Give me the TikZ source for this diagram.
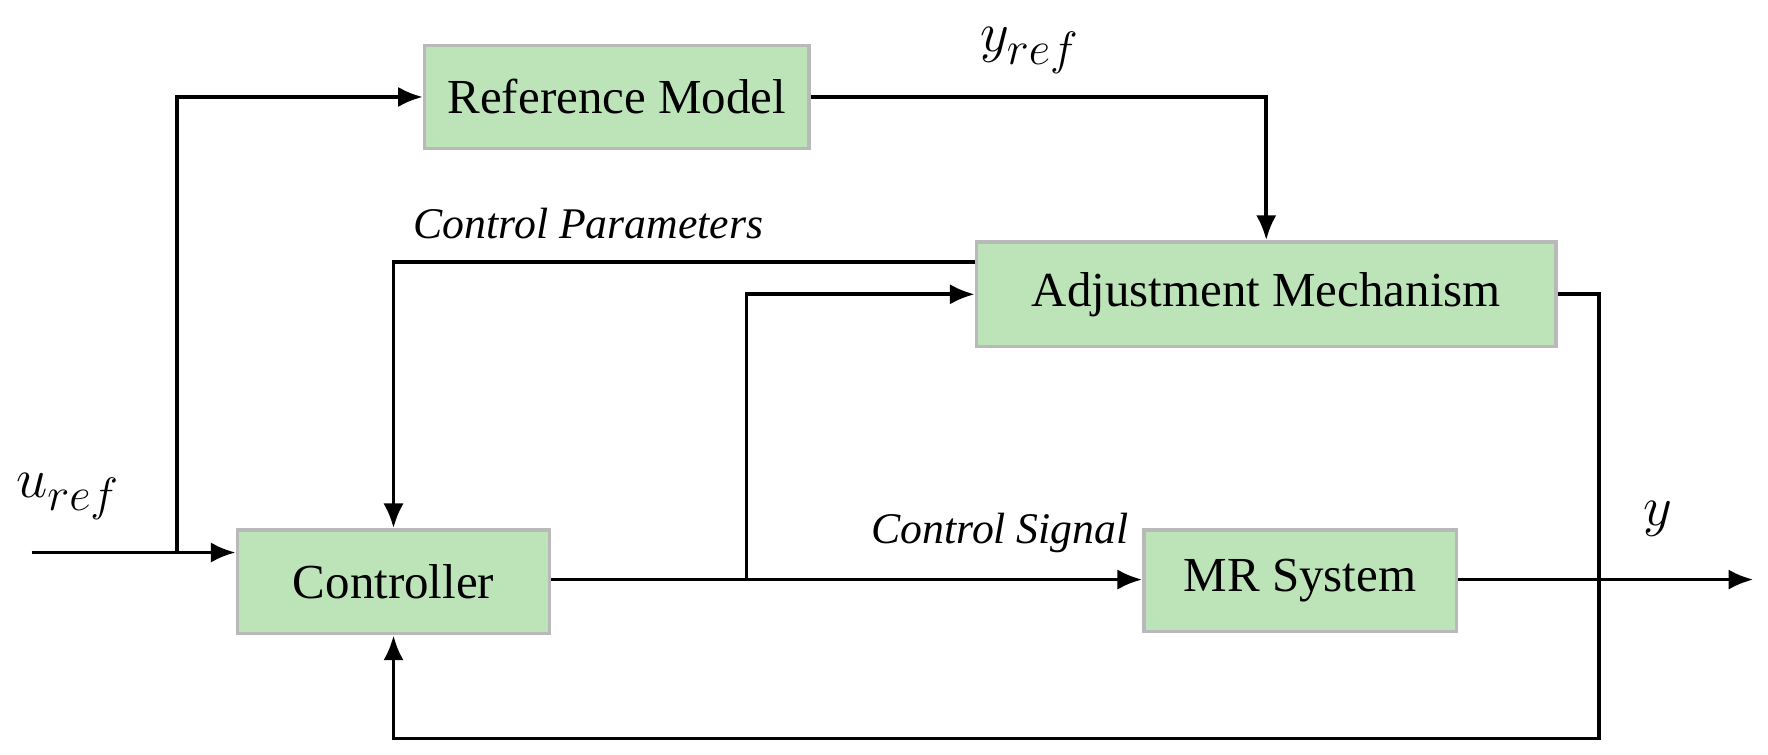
\documentclass[tikz,border=0pt]{standalone}
\usepackage{fontspec}
\setmainfont{Liberation Serif}
\usetikzlibrary{arrows.meta}
\tikzset{
 blk/.style={draw=gray!55,line width=1.5pt,fill={rgb,255:red,189;green,227;blue,185},inner sep=0pt,anchor=center,font=\fontsize{21.7}{25}\selectfont},
 ln/.style={line width=1.7pt},
 ar/.style={ln,-{Latex[length=11pt,width=9pt]}},
 lab/.style={font=\fontsize{19.4}{22}\selectfont\itshape},
 big/.style={font=\fontsize{32}{36}\selectfont}}
\begin{document}
\begin{tikzpicture}[x=0.5pt,y=-0.5pt]
\node[blk,minimum width=170.5pt,minimum height=45.5pt] (rm) at (547,86) {Reference Model};
\node[blk,minimum width=257pt,minimum height=46.5pt] (am) at (1123,261) {Adjustment Mechanism};
\node[blk,minimum width=138.5pt,minimum height=46pt] (ct) at (349,516) {Controller};
\node[blk,minimum width=138.5pt,minimum height=45pt] (mr) at (1153,515) {MR System};
\coordinate (in) at (28,490);
\coordinate (br1) at (157,490);
\coordinate (br2) at (662,514);
\coordinate (out) at (1555,514);
\draw[ar] (in) -- (ct.west|-in);
\draw[ar] (br1) |- (rm.west);
\draw[ar] (rm.east) -| (am.north);
\draw[ar] (am.west|-0,232) -| (ct.north);
\draw[ar] (ct.east|-br2) -- (mr.west|-br2);
\draw[ar] (br2) |- (am.west);
\draw[ar] (mr.east|-out) -- (out);
\draw[ar] (am.east) -| (1418,655) -| (ct.south);
\node[lab] (cp) at (522,198) {Control Parameters};
\node[lab] (cs) at (887,473) {Control Signal};
\node[big] (ur) at (60,440) {$u_{ref}$};
\node[big] (yr) at (913,45) {$y_{ref}$};
\node[big] (yy) at (1470,460) {$y$};
\pgfresetboundingbox
\path[use as bounding box] (0,0) rectangle (1568,669);
\end{tikzpicture}
\end{document}
